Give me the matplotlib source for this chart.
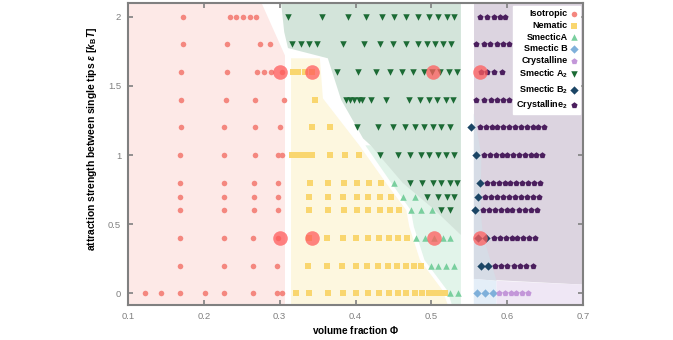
import matplotlib
matplotlib.use('Agg')
import matplotlib.pyplot as plt

plt.rcParams['font.family'] = ['Liberation Sans', 'DejaVu Sans']
plt.rcParams['mathtext.fontset'] = 'custom'
plt.rcParams['mathtext.it'] = 'Liberation Sans:italic:bold'
plt.rcParams['mathtext.rm'] = 'Liberation Sans:bold'

# ---- data: (volume fraction, attraction strength) per phase ----
iso_x = [0.173, 0.234, 0.243, 0.252, 0.261, 0.269,
         0.172, 0.230, 0.274, 0.287,
         0.170, 0.230, 0.270, 0.279, 0.288, 0.303,
         0.170, 0.229, 0.268, 0.306,
         0.170, 0.227, 0.268, 0.300,
         0.169, 0.227, 0.267, 0.298, 0.303,
         0.169, 0.227, 0.266, 0.298,
         0.169, 0.227, 0.266, 0.298,
         0.169, 0.227, 0.266, 0.298,
         0.168, 0.226, 0.265, 0.298,
         0.168, 0.226, 0.265, 0.296,
         0.122, 0.143, 0.169, 0.201, 0.226, 0.265, 0.297, 0.303]
iso_y = [2.0] * 6 + [1.8] * 4 + [1.6] * 6 + [1.4] * 4 + [1.2] * 4 + [1.0] * 5 + \
        [0.8] * 4 + [0.7] * 4 + [0.6] * 4 + [0.4] * 4 + [0.2] * 4 + [0.0] * 8

nem_x = [0.318, 0.324, 0.334, 0.343,
         0.346,
         0.342, 0.367,
         0.316, 0.321, 0.327, 0.332, 0.337, 0.342, 0.366, 0.386, 0.404,
         0.340, 0.364, 0.385, 0.402, 0.418, 0.434,
         0.339, 0.364, 0.384, 0.402, 0.417, 0.432, 0.447,
         0.339, 0.364, 0.385, 0.402, 0.417, 0.432, 0.446, 0.458,
         0.339, 0.363, 0.383, 0.401, 0.416, 0.431, 0.444, 0.456, 0.468,
         0.338, 0.362, 0.382, 0.400, 0.415, 0.430, 0.443, 0.455, 0.467, 0.477, 0.487,
         0.321, 0.339, 0.364, 0.383, 0.401, 0.416, 0.431, 0.444, 0.456, 0.467, 0.478,
         0.488, 0.497, 0.505, 0.513, 0.518]
nem_y = [1.6] * 4 + [1.4] + [1.2] * 2 + [1.0] * 9 + [0.8] * 6 + [0.7] * 7 + \
        [0.6] * 8 + [0.4] * 9 + [0.2] * 11 + [0.0] * 16

sma_x = [0.451, 0.462, 0.478, 0.473, 0.487, 0.501,
         0.480, 0.492, 0.503, 0.515, 0.525,
         0.499, 0.509, 0.519, 0.530, 0.525, 0.535]
sma_y = [0.8] + [0.7] * 2 + [0.6] * 3 + [0.4] * 5 + [0.2] * 4 + [0.0] * 2

smb_x = [0.560, 0.571, 0.581]
smb_y = [0.0] * 3

cry_x = [0.589, 0.597, 0.605, 0.612, 0.620, 0.627]
cry_y = [0.0] * 6

sma2_x = [0.311, 0.356, 0.390, 0.414, 0.435, 0.451, 0.467, 0.483, 0.497, 0.509, 0.520, 0.530,
          0.316, 0.328, 0.339, 0.349, 0.383, 0.411, 0.432, 0.450, 0.467, 0.483, 0.494, 0.505, 0.516, 0.526,
          0.375, 0.403, 0.427, 0.446, 0.461, 0.476, 0.490, 0.501, 0.512, 0.523, 0.534,
          0.388, 0.393, 0.398, 0.404, 0.409, 0.420, 0.440, 0.470, 0.485, 0.497, 0.508, 0.519, 0.529,
          0.402, 0.430, 0.450, 0.465, 0.478, 0.490, 0.502, 0.513, 0.524,
          0.432, 0.456, 0.472, 0.486, 0.497, 0.509, 0.519, 0.530,
          0.472, 0.488, 0.502, 0.513, 0.524, 0.534,
          0.494, 0.509, 0.520, 0.530,
          0.513, 0.525]
sma2_y = [2.0] * 12 + [1.8] * 14 + [1.6] * 11 + [1.4] * 13 + [1.2] * 9 + [1.0] * 8 + \
         [0.8] * 6 + [0.7] * 4 + [0.6] * 2

smb2_x = [0.552, 0.559, 0.564, 0.561, 0.558, 0.562, 0.572, 0.565, 0.575]
smb2_y = [1.2, 1.0, 0.8, 0.7, 0.6, 0.4, 0.4, 0.2, 0.2]

cry2_x = [0.564, 0.573, 0.582, 0.590, 0.597,
          0.559, 0.569, 0.578, 0.586, 0.595, 0.603,
          0.566, 0.574, 0.583, 0.593,
          0.559, 0.570, 0.579, 0.587, 0.594, 0.602,
          0.564, 0.572, 0.580, 0.587, 0.595, 0.603, 0.610, 0.618, 0.626, 0.634, 0.641, 0.649,
          0.570, 0.578, 0.585, 0.593, 0.600, 0.608, 0.616, 0.623, 0.631, 0.638, 0.646,
          0.573, 0.581, 0.589, 0.597, 0.604, 0.612, 0.620, 0.628, 0.635, 0.643,
          0.571, 0.579, 0.587, 0.595, 0.603, 0.610, 0.618, 0.626, 0.634, 0.642,
          0.568, 0.576, 0.584, 0.592, 0.600, 0.607, 0.615, 0.623, 0.631, 0.639,
          0.582, 0.590, 0.598, 0.606, 0.613, 0.621, 0.629, 0.637,
          0.584, 0.592, 0.600, 0.609, 0.617, 0.625, 0.634]
cry2_y = [2.0] * 5 + [1.8] * 6 + [1.6] * 4 + [1.4] * 6 + [1.2] * 12 + [1.0] * 11 + \
         [0.8] * 10 + [0.7] * 10 + [0.6] * 10 + [0.4] * 8 + [0.2] * 7

# highlighted state points
hl_x = [0.300, 0.342, 0.502, 0.564, 0.300, 0.343, 0.503, 0.564]
hl_y = [1.6] * 4 + [0.4] * 4

# phase regions (polygon outlines in data coords)
reg_iso = [(0.1, -0.2), (0.307, -0.2), (0.307, 1.72), (0.268, 2.2), (0.1, 2.2)]
reg_nem = [(0.315, -0.2), (0.315, 1.70), (0.353, 1.70), (0.357, 1.41), (0.405, 1.07),
           (0.440, 0.80), (0.467, 0.60), (0.471, 0.48), (0.485, 0.24), (0.515, 0.02),
           (0.529, -0.2)]
reg_sma = [(0.534, -0.2), (0.521, 0.02), (0.491, 0.24), (0.477, 0.48), (0.473, 0.60),
           (0.447, 0.80), (0.413, 1.07), (0.42, 1.07), (0.539, 0.42), (0.539, -0.2)]
reg_sma2 = [(0.300, 2.2), (0.306, 1.89), (0.311, 1.774), (0.3635, 1.70), (0.381, 1.40),
            (0.410, 1.12), (0.420, 1.07), (0.462, 0.80), (0.505, 0.60), (0.539, 0.42),
            (0.539, 2.2)]
reg_cry2 = [(0.556, 0.105), (0.556, 2.2), (0.71, 2.2), (0.71, 0.06)]
reg_smb2 = [(0.556, 0.105), (0.556, 1.30), (0.566, 1.0), (0.565, 0.6), (0.568, 0.42),
            (0.586, 0.09)]
reg_smb = [(0.556, -0.2), (0.556, 0.105), (0.586, 0.09), (0.586, -0.2)]
reg_cry = [(0.586, -0.2), (0.586, 0.09), (0.71, 0.06), (0.71, -0.2)]

fig = plt.figure(figsize=(6.73, 3.40), dpi=100)
ax = fig.add_axes([128 / 673, 1 - 305 / 340, 455 / 673, 302 / 340])

for poly, col in [(reg_iso, '#fde9e7'), (reg_nem, '#fdf7df'), (reg_sma, '#e2f4ea'),
                  (reg_sma2, '#d3e4da'), (reg_cry2, '#dcd4e0'), (reg_smb2, '#d6dce6'),
                  (reg_smb, '#e4eef8'), (reg_cry, '#efe7f5')]:
    ax.add_patch(plt.Polygon(poly, closed=True, facecolor=col, edgecolor='none', zorder=0))

ms = 16
ax.scatter(iso_x, iso_y, s=ms, marker='o', color='#f4877f', lw=0, label='Isotropic', zorder=3)
ax.scatter(nem_x, nem_y, s=ms, marker='s', color='#f9d66f', lw=0, label='Nematic', zorder=3)
ax.scatter(sma_x, sma_y, s=22, marker='^', color='#79cf9e', lw=0, label='SmecticA', zorder=3)
ax.scatter(smb_x, smb_y, s=18, marker='D', color='#7fb0da', lw=0, label='Smectic B', zorder=3)
ax.scatter(cry_x, cry_y, s=22, marker='p', color='#c397d9', lw=0, label='Crystalline', zorder=3)
ax.scatter(sma2_x, sma2_y, s=22, marker='v', color='#1c6b35', lw=0, label=r'Smectic A$_{\rm 2}$', zorder=3)
ax.scatter(smb2_x, smb2_y, s=18, marker='D', color='#1b4565', lw=0, label=r'Smectic B$_{\rm 2}$', zorder=3)
ax.scatter(cry2_x, cry2_y, s=22, marker='p', color='#4b1f5e', lw=0, label=r'Crystalline$_{\rm 2}$', zorder=3)

ax.scatter(hl_x, hl_y, s=110, marker='o', color='#ff5c5c', alpha=0.75, lw=0, zorder=4)

ax.set_xlim(0.1, 0.7)
ax.set_ylim(-0.085, 2.1)
ax.set_xticks([0.1, 0.2, 0.3, 0.4, 0.5, 0.6, 0.7])
ax.set_xticklabels(['0.1', '0.2', '0.3', '0.4', '0.5', '0.6', '0.7'])
ax.set_yticks([0, 0.5, 1, 1.5, 2])
ax.set_yticklabels(['0', '0.5', '1', '1.5', '2'])

for s in ax.spines.values():
    s.set_color('#808080')
    s.set_linewidth(1.5)
ax.tick_params(direction='in', length=3.5, width=1.2, color='#808080', labelcolor='#808080',
               labelsize=6.8, top=True, right=True, pad=5)

ax.set_xlabel('volume fraction $\\mathit{Φ}$', fontsize=7.2, fontweight='bold', labelpad=2)
ax.set_ylabel(r'attraction strength between single tips $\varepsilon$ [$k_{\rm B}T$]',
              fontsize=7.4, fontweight='bold')
ax.yaxis.set_label_coords(-0.063, 0.55)

leg = ax.legend(loc='upper right', markerfirst=False, fancybox=False, framealpha=1,
                edgecolor='white', prop={'size': 6.5, 'weight': 'bold'}, handlelength=0.6,
                handletextpad=0.4, labelspacing=0.3, borderpad=0.35, borderaxespad=0.35,
                scatterpoints=1)
leg.set_zorder(5)

fig.savefig('out.png', dpi=100)
